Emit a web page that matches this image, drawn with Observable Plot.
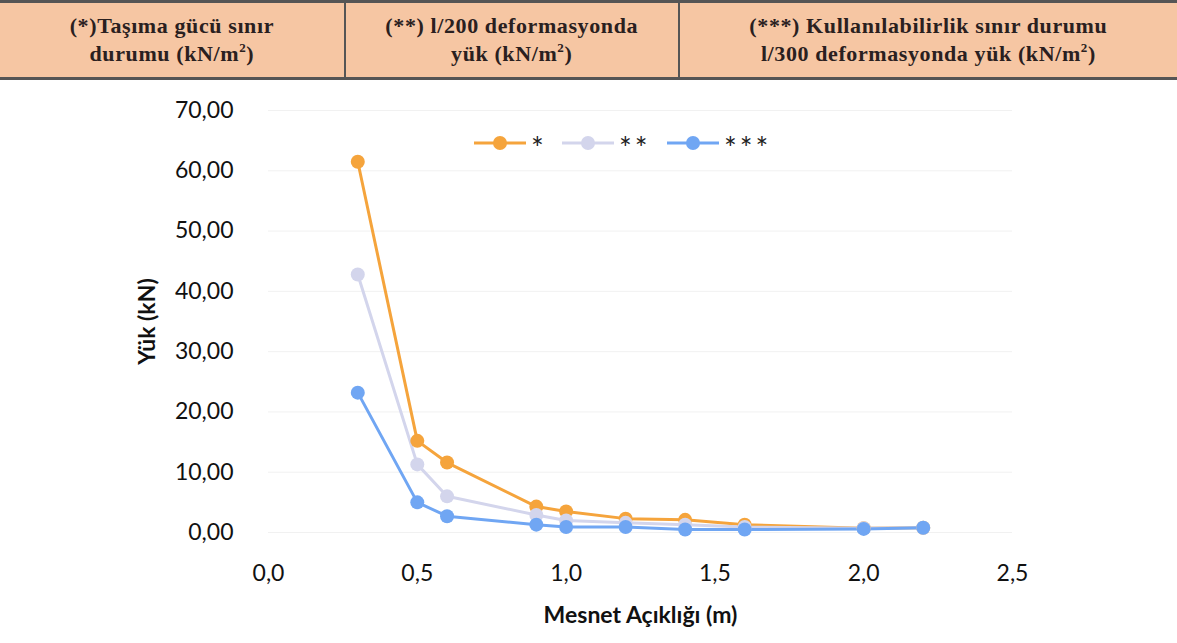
<!DOCTYPE html>
<html>
<head>
<meta charset="utf-8">
<script src="https://cdn.jsdelivr.net/npm/d3@7"></script>
<script src="https://cdn.jsdelivr.net/npm/@observablehq/plot@0.6"></script>
<style>
  html, body { margin: 0; padding: 0; background: #fff; width: 1177px; height: 643px; overflow: hidden; }
  #wrap { position: relative; width: 1177px; height: 643px; }
  #header { position: absolute; left: 0; top: 0; width: 1177px; height: 82px; }
  #header table { border-collapse: collapse; width: 1177px; height: 80px; background: #F6C6A3;
    border-top: 3px solid #555; border-bottom: 3px solid #555; }
  #header td { font-family: "Liberation Serif", "DejaVu Serif", serif; font-weight: bold; font-size: 22px;
    letter-spacing: 0.6px; color: #2a2020; text-align: center; vertical-align: middle; line-height: 28px; padding: 0; }
  #header td + td { border-left: 2px solid #555; }
  #header sup { font-size: 13px; line-height: 0; vertical-align: 9px; }
  #chart { position: absolute; left: 0; top: 82px; }
  #legend { position: absolute; left: 0; top: 0; }
</style>
</head>
<body>
<div id="wrap">
  <div id="header"></div>
  <div id="chart"></div>
  <svg id="legend" width="1177" height="643"></svg>
</div>
<script>
// ---- data ----
const spans = [0.3, 0.5, 0.6, 0.9, 1.0, 1.2, 1.4, 1.6, 2.0, 2.2];
const seriesNames = ["*", "**", "***"];
const loadUltimate = [61.5, 15.2, 11.6, 4.3, 3.5, 2.3, 2.1, 1.3, 0.7, 0.8];
const loadL200 = [42.8, 11.3, 6.0, 2.9, 2.0, 1.6, 1.3, 0.9, 0.7, 0.8];
const loadL300 = [23.2, 5.0, 2.7, 1.3, 0.9, 0.9, 0.5, 0.5, 0.6, 0.8];
const yTicks = [0, 10, 20, 30, 40, 50, 60, 70];
const xTicks = [0, 0.5, 1.0, 1.5, 2.0, 2.5];
const headerCells = [
  ["(*)Taşıma gücü sınır", "durumu (kN/m<sup>2</sup>)"],
  ["(**) l/200 deformasyonda", "yük (kN/m<sup>2</sup>)"],
  ["(***) Kullanılabilirlik sınır durumu", "l/300 deformasyonda yük (kN/m<sup>2</sup>)"]
];
const colors = ["#F5A43C", "#D3D5EC", "#70A6F3"];

// ---- header table ----
const widths = [345, 333, 499];
document.getElementById("header").innerHTML =
  "<table><tr>" + headerCells.map((c, i) =>
    `<td style="width:${widths[i]}px">${c[0]}<br>${c[1]}</td>`).join("") + "</tr></table>";

// ---- tidy rows ----
const valueSets = [loadUltimate, loadL200, loadL300];
const rows = [];
valueSets.forEach((vals, si) => vals.forEach((v, i) => rows.push({x: spans[i], y: v, s: seriesNames[si]})));

const fmtY = d => d.toFixed(2).replace(".", ",");
const fmtX = d => d.toFixed(1).replace(".", ",");

const chart = Plot.plot({
  width: 1177,
  height: 561,
  marginLeft: 268,
  marginRight: 165,
  marginTop: 28,
  marginBottom: 111,
  style: {fontFamily: "Lato, sans-serif", fontSize: "23px", color: "#111", background: "transparent"},
  x: {domain: [0, 2.5]},
  y: {domain: [0, 70]},
  color: {domain: seriesNames, range: colors},
  marks: [
    Plot.gridY(yTicks, {stroke: "#f1f1f1", strokeOpacity: 1, strokeWidth: 1}),
    Plot.axisY(yTicks, {tickSize: 0, tickPadding: 35, tickFormat: fmtY, fontSize: 23,
      label: "Yük (kN)", labelAnchor: "center", labelOffset: 130, labelArrow: "none"}),
    Plot.axisX(xTicks, {tickSize: 0, tickPadding: 32, tickFormat: fmtX, fontSize: 23,
      label: "Mesnet Açıklığı (m)", labelAnchor: "center", labelOffset: 90, labelArrow: "none"}),
    Plot.line(rows, {x: "x", y: "y", z: "s", stroke: "s", strokeWidth: 3}),
    Plot.dot(rows, {x: "x", y: "y", fill: "s", r: 7})
  ]
});
document.getElementById("chart").appendChild(chart);
// bold axis titles only
chart.querySelectorAll("g[aria-label='x-axis label'] text, g[aria-label='y-axis label'] text")
  .forEach(t => { t.setAttribute("font-weight", "bold"); t.setAttribute("font-size", "23"); });

// ---- legend ----
const lg = d3.select("#legend");
const legendX = [474, 562, 667];
seriesNames.forEach((name, i) => {
  const x0 = legendX[i], y0 = 143;
  lg.append("line").attr("x1", x0).attr("x2", x0 + 52).attr("y1", y0).attr("y2", y0)
    .attr("stroke", colors[i]).attr("stroke-width", 3);
  lg.append("circle").attr("cx", x0 + 26).attr("cy", y0).attr("r", 7).attr("fill", colors[i]);
  lg.append("text").attr("x", x0 + 57).attr("y", y0 + 16).text(name)
    .attr("font-family", "Lato, sans-serif").attr("font-size", 30).attr("letter-spacing", 3).attr("fill", "#222");
});
</script>
</body>
</html>
